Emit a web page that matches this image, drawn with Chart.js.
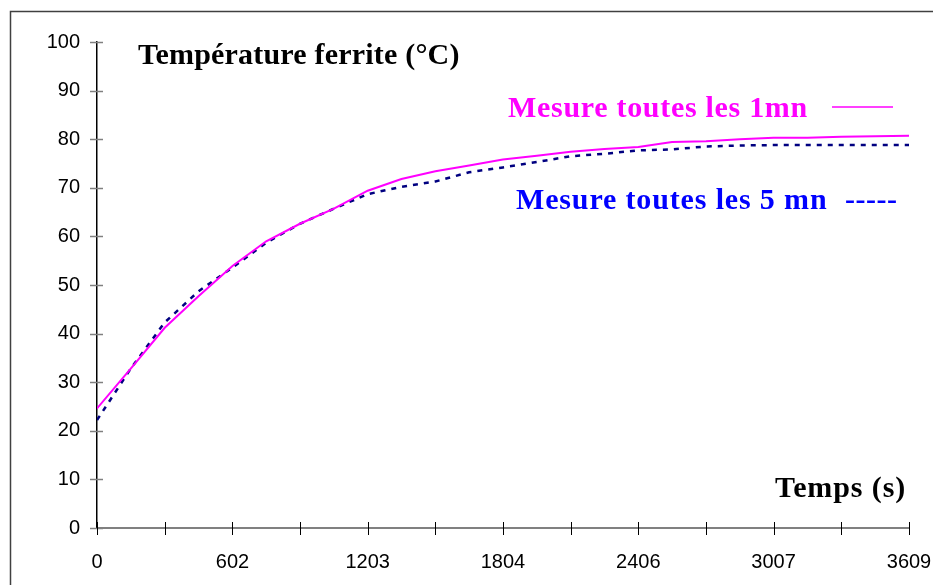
<!DOCTYPE html>
<html>
<head>
<meta charset="utf-8">
<script src="https://cdn.jsdelivr.net/npm/chart.js@4"></script>
<style>
  html, body { margin: 0; padding: 0; background: #ffffff; }
  canvas { display: block; }
</style>
</head>
<body>
<canvas id="c" width="933" height="585"></canvas>
<script>
// ---- Data ----
const times = [0, 150, 301, 451, 602, 752, 902, 1053, 1203, 1353, 1504, 1654, 1804,
               1955, 2105, 2255, 2406, 2556, 2707, 2857, 3007, 3158, 3308, 3459, 3609];
const mesure1mn = [24.6, 32.8, 41.2, 47.7, 53.9, 59.0, 62.6, 65.7, 69.4, 71.8, 73.4, 74.6, 75.8,
                   76.6, 77.4, 78.0, 78.4, 79.4, 79.6, 80.0, 80.3, 80.3, 80.5, 80.6, 80.7];
const mesure5mn = [22.2, 32.8, 42.3, 48.7, 53.6, 58.7, 62.6, 65.7, 68.7, 70.2, 71.3, 73.2, 74.2,
                   75.3, 76.5, 77.0, 77.7, 77.9, 78.5, 78.7, 78.8, 78.8, 78.8, 78.8, 78.8];
const xTickValues = [0, 301, 602, 902, 1203, 1504, 1804, 2105, 2406, 2707, 3007, 3308, 3609];
const xTickLabels = ['0', '', '602', '', '1203', '', '1804', '', '2406', '', '3007', '', '3609'];
const yMin = 0, yMax = 100, yStep = 10;

const yAxisTitle = 'Température ferrite (°C)';
const xAxisTitle = 'Temps (s)';
const label1 = 'Mesure toutes les 1mn';
const label2 = 'Mesure toutes les 5 mn';

const toPoints = (xs, ys) => xs.map((x, i) => ({ x: x, y: ys[i] }));

function spacedText(ctx, text, x, y, spacing) {
  if ('letterSpacing' in ctx) {
    ctx.letterSpacing = spacing + 'px';
    ctx.fillText(text, x, y);
    ctx.letterSpacing = '0px';
  } else {
    ctx.fillText(text, x, y);
  }
}

const decoPlugin = {
  id: 'deco',
  beforeDraw(chart) {
    const ctx = chart.ctx;
    ctx.save();
    ctx.strokeStyle = '#404040';
    ctx.lineWidth = 1.5;
    ctx.strokeRect(10.5, 11.5, 1000, 700);
    ctx.restore();
  },
  afterDraw(chart) {
    const ctx = chart.ctx;
    const xs = chart.scales.x, ys = chart.scales.y;
    ctx.save();
    // y tick marks (crossing)
    ctx.strokeStyle = '#808080';
    ctx.lineWidth = 1.5;
    ys.ticks.forEach(t => {
      const py = Math.round(ys.getPixelForValue(t.value)) + 0.5;
      ctx.beginPath();
      ctx.moveTo(xs.left - 7, py);
      ctx.lineTo(xs.left + 6, py);
      ctx.stroke();
    });
    // x tick marks (crossing)
    ctx.strokeStyle = '#000000';
    ctx.lineWidth = 1;
    xs.ticks.forEach(t => {
      const px = Math.round(xs.getPixelForValue(t.value)) + 0.5;
      ctx.beginPath();
      ctx.moveTo(px, ys.bottom - 6);
      ctx.lineTo(px, ys.bottom + 7);
      ctx.stroke();
    });
    // texts
    ctx.textBaseline = 'alphabetic';
    ctx.textAlign = 'left';
    ctx.font = 'bold 30px "Liberation Serif", "Times New Roman", serif';
    ctx.fillStyle = '#000000';
    spacedText(ctx, yAxisTitle, 138, 64, 0.2);
    spacedText(ctx, xAxisTitle, 775, 497, 0.9);
    ctx.fillStyle = '#ff00ff';
    spacedText(ctx, label1, 508, 117, 0.7);
    ctx.fillStyle = '#0000ff';
    spacedText(ctx, label2, 516, 209, 0.85);
    spacedText(ctx, '-----', 845, 209, 0.5);
    // legend line for 1mn series
    ctx.strokeStyle = '#ff00ff';
    ctx.lineWidth = 1.5;
    ctx.beginPath();
    ctx.moveTo(832, 107);
    ctx.lineTo(893, 107);
    ctx.stroke();
    ctx.restore();
  }
};

Chart.defaults.font.family = '"Liberation Sans", Arial, sans-serif';
Chart.defaults.color = '#000000';

new Chart(document.getElementById('c'), {
  type: 'line',
  data: {
    datasets: [
      {
        label: label1,
        data: toPoints(times, mesure1mn),
        borderColor: '#ff00ff',
        borderWidth: 2,
        pointRadius: 0,
        tension: 0,
        fill: false
      },
      {
        label: label2,
        data: toPoints(times, mesure5mn),
        borderColor: '#000080',
        borderWidth: 2.5,
        borderDash: [5, 6],
        pointRadius: 0,
        tension: 0,
        fill: false
      }
    ]
  },
  options: {
    responsive: false,
    animation: false,
    layout: { padding: { left: 0, top: 42, right: 0, bottom: 0 } },
    plugins: { legend: { display: false }, tooltip: { enabled: false } },
    scales: {
      x: {
        type: 'linear',
        min: 0,
        max: 3609,
        afterBuildTicks: (scale) => { scale.ticks = xTickValues.map(v => ({ value: v })); },
        afterFit: (scale) => { scale.height = 57; scale.paddingRight = 24; },
        ticks: {
          autoSkip: false,
          maxRotation: 0,
          padding: 14,
          font: { size: 20 },
          color: '#000000',
          callback: (value, index) => xTickLabels[index]
        },
        grid: { display: false },
        border: { display: true, color: '#808080', width: 2 }
      },
      y: {
        min: yMin,
        max: yMax,
        afterFit: (scale) => { scale.width = 97; },
        ticks: {
          stepSize: yStep,
          padding: 9,
          font: { size: 20 },
          color: '#000000'
        },
        grid: { display: false },
        border: { display: true, color: '#000000', width: 1.5 }
      }
    }
  },
  plugins: [decoPlugin]
});
</script>
</body>
</html>
